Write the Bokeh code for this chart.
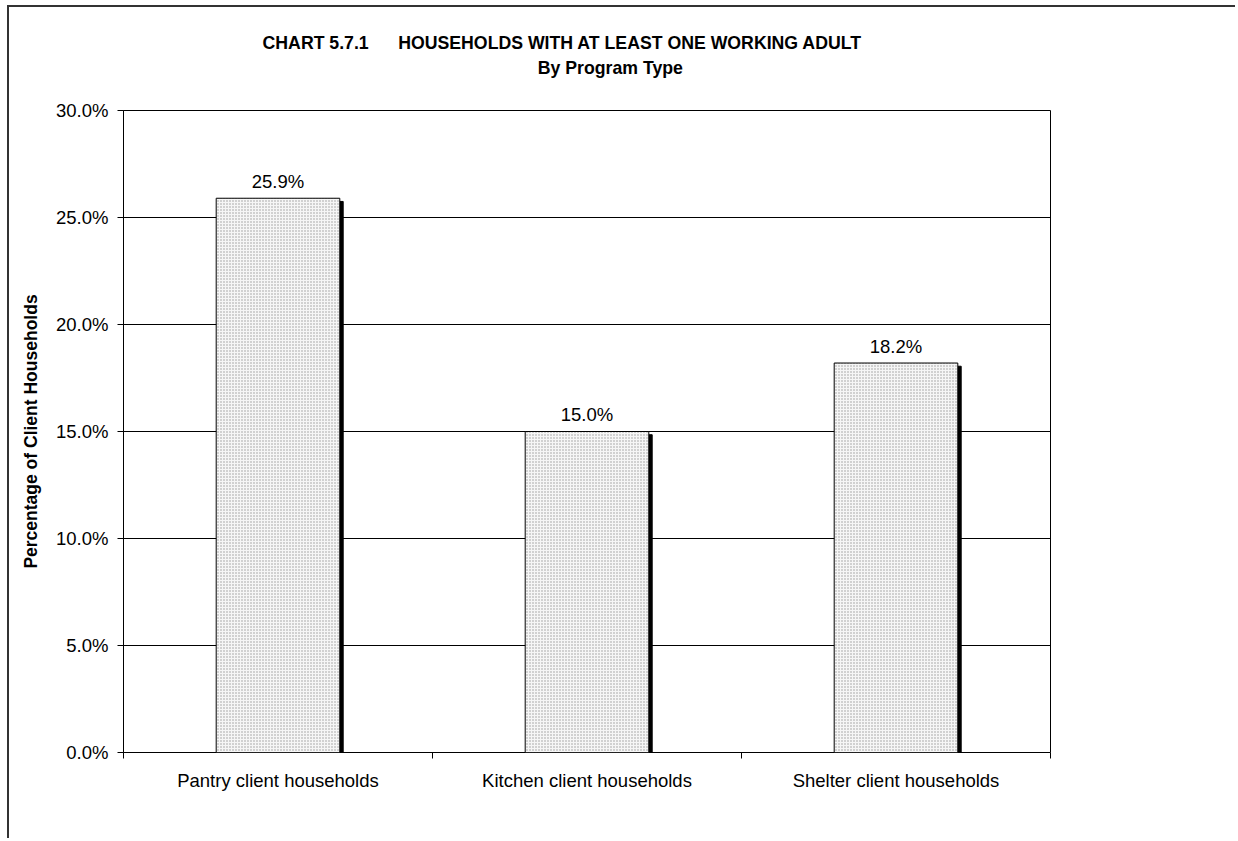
from bokeh.plotting import figure
from bokeh.models import (Range1d, FixedTicker, PrintfTickFormatter, LinearAxis,
                          Title, ColumnDataSource)
from bokeh.core.properties import value
from bokeh.embed import file_html
from bokeh.resources import INLINE

categories = ["Pantry client households", "Kitchen client households", "Shelter client households"]
values = [25.9, 15.0, 18.2]
value_labels = ["25.9%", "15.0%", "18.2%"]
y_ticks = [0, 5, 10, 15, 20, 25, 30]
title_line1 = "CHART 5.7.1" + "\u00a0" * 6 + "HOUSEHOLDS WITH AT LEAST ONE WORKING ADULT" + "\u00a0" * 10
title_line2 = "\u00a0" * 56 + "By Program Type"

FONT = "Liberation Sans"
YMAX = 30

xpos = [i + 0.5 for i in range(len(categories))]
bounds = list(range(len(categories) + 1))

src = ColumnDataSource(dict(x=xpos, val=values, lab=value_labels,
                            xs=[x + 0.011 for x in xpos],
                            shadow=[v - 0.15 for v in values]))

p = figure(width=1228, height=833, x_range=Range1d(0, len(categories)), y_range=Range1d(0, YMAX),
           output_backend="svg", toolbar_location=None, x_axis_location=None,
           min_border_left=114, min_border_right=187, min_border_bottom=88, min_border_top=103)
p.styles = {"margin-left": "7px", "margin-top": "5px",
            "border-left": "2px solid #333333", "border-top": "2px solid #333333"}

tick_axis = LinearAxis(ticker=FixedTicker(ticks=bounds),
                       major_tick_out=6, major_tick_in=0, minor_tick_line_color=None,
                       axis_line_color=None, major_label_text_font_size="0px",
                       major_label_standoff=0, major_tick_line_color="black")
p.add_layout(tick_axis, "below")
cat_axis = LinearAxis(ticker=FixedTicker(ticks=xpos),
                      major_label_overrides={x: c for x, c in zip(xpos, categories)},
                      major_tick_out=0, major_tick_in=0, axis_line_color=None,
                      minor_tick_line_color=None,
                      major_tick_line_color=None, major_label_standoff=11,
                      major_label_text_font=FONT, major_label_text_font_size="18.5px",
                      major_label_text_color="black")
p.add_layout(cat_axis, "below")

yax = p.yaxis[0]
yax.ticker = FixedTicker(ticks=y_ticks)
yax.formatter = PrintfTickFormatter(format="%.1f%%")
yax.major_tick_out = 6
yax.major_tick_in = 0
yax.minor_tick_line_color = None
yax.axis_line_color = "black"
yax.major_tick_line_color = "black"
yax.major_label_text_font = FONT
yax.major_label_text_font_size = "18.5px"
yax.major_label_text_color = "black"
yax.major_label_standoff = 9
yax.axis_label = "Percentage of Client Households"
yax.axis_label_text_font = FONT
yax.axis_label_text_font_size = "17.5px"
yax.axis_label_text_font_style = "bold"
yax.axis_label_text_color = "black"
yax.axis_label_standoff = 12

p.xgrid.grid_line_color = None
p.ygrid.grid_line_color = "black"
p.ygrid.grid_line_width = 1
p.ygrid.ticker = FixedTicker(ticks=y_ticks)
p.outline_line_color = "black"
p.outline_line_width = 1
p.background_fill_color = "white"
p.border_fill_color = "white"

# titles: spacer first (closest to frame), then the two-line title
p.add_layout(Title(text=" ", text_font_size="14px"), "above")
p.add_layout(Title(text=title_line1 + "\n" + title_line2, align="center",
                   text_font=FONT, text_font_size="17.7px", text_font_style="bold",
                   text_color="black", text_line_height=1.25), "above")

# shadow bars
p.vbar(x="xs", top="shadow", width=0.4, bottom=0,
       source=src, fill_color="black", line_color="black")
# bars
p.vbar(x="x", top="val", width=0.4, bottom=0, source=src,
       fill_color="#f6f6f6", line_color="black", line_width=1,
       hatch_pattern=".", hatch_color="#999999", hatch_scale=3, hatch_weight=0.8)

p.text(x="x", y="val", text="lab", source=src, text_align="center",
       text_baseline="alphabetic", y_offset=-17, text_font=value(FONT),
       text_font_size="18.5px", text_color="black")

open("out.html", "w").write(file_html(p, INLINE))
